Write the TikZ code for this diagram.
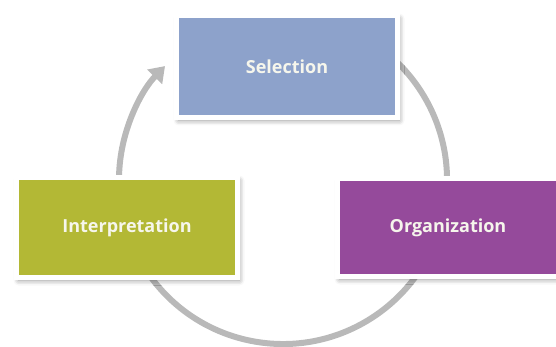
\documentclass[tikz,border=0pt]{standalone}
\usepackage{fontspec}
\setmainfont{Open Sans}
\usetikzlibrary{arrows.meta,shadows.blur,backgrounds}
\definecolor{selc}{HTML}{8DA2CB}
\definecolor{intc}{HTML}{B3B835}
\definecolor{orgc}{HTML}{954A9B}
\definecolor{arcc}{HTML}{B9B9B9}
\definecolor{txtc}{HTML}{F6F6EC}
\tikzset{
  stage/.style={draw=white, line width=5pt, minimum width=221pt, minimum height=101pt,
    inner sep=0pt, text=txtc, font=\fontsize{18}{20}\selectfont\bfseries,
    blur shadow={shadow xshift=2pt, shadow yshift=-3pt, shadow blur radius=5pt, shadow opacity=45}},
  cycle/.style={draw=arcc, line width=6pt, -{Triangle[length=15pt,width=20pt]}}
}
\begin{document}
\begin{tikzpicture}[x=1pt,y=1pt]
\useasboundingbox (0,0) rectangle (556,346);
\clip (0,0) rectangle (556,346);
\node[stage, fill=selc, minimum height=102pt] (sel) at (287,279.5) {Selection};
\node[stage, fill=intc, minimum height=100pt] (int) at (127,118.5) {Interpretation};
\node[stage, fill=orgc, minimum height=98pt] (org) at (448,118.5) {Organization};
\coordinate (c) at (283,166);
\begin{scope}[on background layer]
\draw[cycle] ([shift={(80:164)}]c) arc[start angle=80, end angle=-224, radius=164];
\end{scope}
\end{tikzpicture}
\end{document}
